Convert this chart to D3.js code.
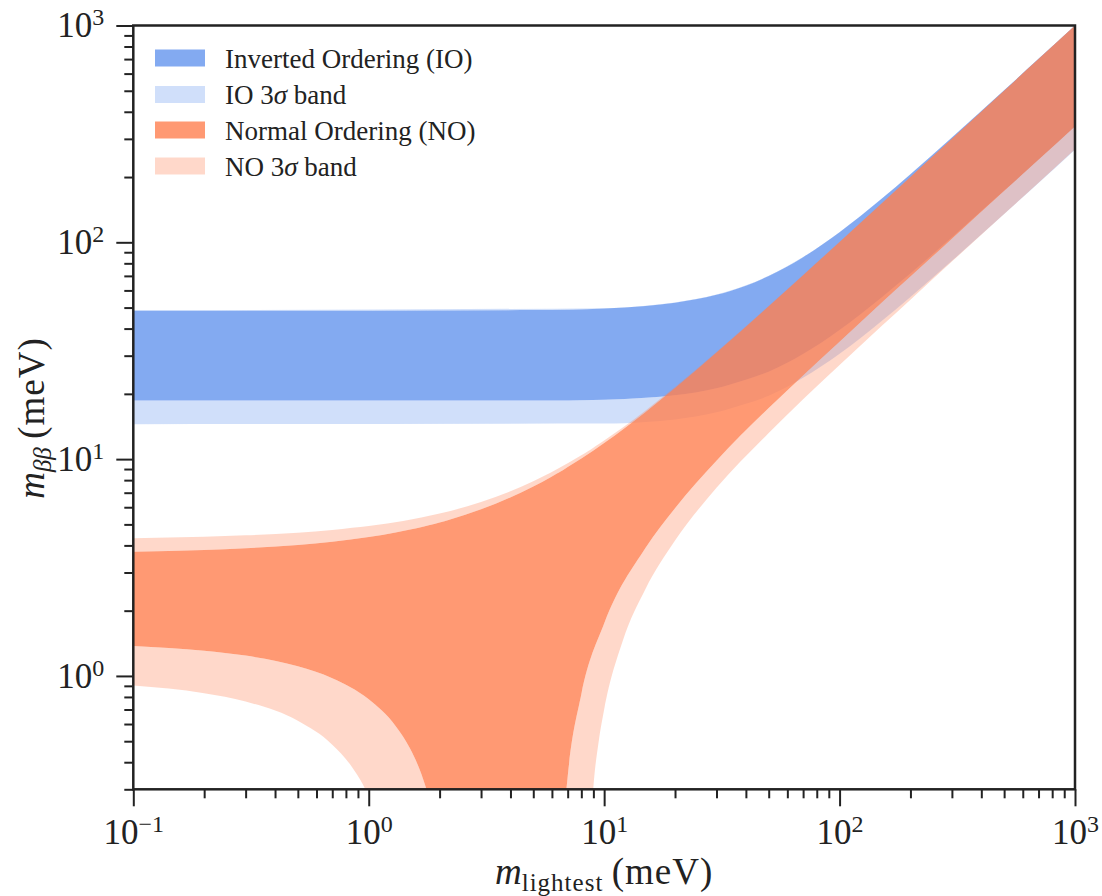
<!DOCTYPE html>
<html>
<head>
<meta charset="utf-8">
<script src="https://cdn.jsdelivr.net/npm/d3@7"></script>
<style>
  html, body { margin: 0; padding: 0; background: #ffffff; }
  svg { display: block; }
  text { font-family: "Liberation Serif", "DejaVu Serif", serif; fill: #222; }
</style>
</head>
<body>
<script>
// ---------------- data (meV) ----------------
// Normal Ordering, central band
const mNO      = [0.1, 0.2, 0.3, 0.5, 0.7, 1, 1.3, 1.5, 1.7, 1.8, 2.0, 2.2, 3, 5, 6, 6.3, 6.5, 6.8, 7, 8, 10, 15, 20, 30, 50, 70, 100, 150, 200, 300, 500, 700, 1000];
const noUpper  = [3.74, 3.81, 3.88, 4.02, 4.16, 4.37, 4.59, 4.73, 4.88, 4.95, 5.10, 5.25, 5.87, 7.48, 8.32, 8.58, 8.75, 9.01, 9.19, 10.06, 11.86, 16.51, 21.28, 30.99, 50.68, 70.52, 100.4, 150.3, 200.2, 300.1, 500.1, 700.1, 1000];
const noLower  = [1.376, 1.308, 1.241, 1.108, 0.976, 0.780, 0.588, 0.461, 0.336, 0.274, 0.150, 0.028, 0, 0, 0, 0, 0.094, 0.243, 0.343, 0.824, 1.747, 3.905, 5.94, 9.84, 17.2, 24.3, 34.8, 52.3, 69.5, 103.9, 172.3, 240.1, 342.2];
// Normal Ordering, 3 sigma band
const mNO3     = [0.1, 0.2, 0.3, 0.5, 0.7, 0.85, 1, 1.2, 1.4, 2, 3, 5, 7, 8, 8.5, 9, 9.5, 10, 12, 15, 20, 30, 50, 70, 100, 150, 200, 300, 500, 700, 1000];
const no3Upper = [4.32, 4.385, 4.45, 4.58, 4.71, 4.82, 4.92, 5.05, 5.19, 5.61, 6.34, 7.90, 9.56, 10.42, 10.85, 11.29, 11.73, 12.18, 13.99, 16.77, 21.50, 31.16, 50.80, 70.60, 100.4, 150.3, 200.2, 300.1, 500.1, 700.1, 1000];
const no3Lower = [0.903, 0.832, 0.762, 0.621, 0.482, 0.379, 0.276, 0.140, 0.006, 0, 0, 0, 0, 0, 0.105, 0.307, 0.507, 0.700, 1.454, 2.525, 4.21, 7.37, 13.2, 18.9, 27.2, 40.9, 54.4, 81.5, 135.1, 188.3, 268.5];
// Inverted Ordering, central band
const mIO      = [0.1, 1, 5, 10, 15, 20, 30, 40, 50, 70, 100, 150, 200, 300, 500, 700, 1000];
const ioUpper  = [48.37, 48.40, 48.72, 49.56, 50.87, 52.61, 57.23, 63.09, 69.88, 85.36, 111.3, 157.8, 205.9, 304.0, 502.4, 701.7, 1001.2];
const ioLower  = [18.64, 18.63, 18.63, 18.81, 19.18, 19.71, 21.24, 23.25, 25.3, 30.5, 39.4, 55.4, 71.8, 105.4, 173.2, 240.7, 342.7];
// Inverted Ordering, 3 sigma band
const mIO3     = [0.1, 10, 15, 20, 30, 40, 50, 70, 100, 150, 200, 300, 500, 700, 1000];
const io3Upper = [48.6, 49.7, 51.0, 52.8, 57.4, 63.3, 70.1, 85.5, 111.4, 157.9, 206.0, 304.1, 502.4, 701.7, 1001.2];
const io3Lower = [14.50, 14.58, 14.84, 15.25, 16.43, 18.00, 19.6, 23.7, 30.6, 43.1, 56.0, 82.2, 135.1, 187.7, 267.2];

const xMajor = [0.1, 1, 10, 100, 1000];
const xExp   = ["\u22121", "0", "1", "2", "3"];
const yMajor = [1, 10, 100, 1000];
const yExp   = ["0", "1", "2", "3"];
const legendLabels = [["Inverted Ordering (IO)"], ["IO 3", "\u03c3", " band"], ["Normal Ordering (NO)"], ["NO 3", "\u03c3", " band"]];

// ---------------- layout ----------------
const W = 1102, H = 896;
const L = 133.3, R = 1075, T = 25.5, B = 789.3;
const IO_COLOR = "#6495ED", NO_COLOR = "#FF7F50";

const svg = d3.select("body").append("svg").attr("width", W).attr("height", H);
const x = d3.scaleLog().domain([0.1, 1000]).range([L, R]);
const y = d3.scaleLog().domain([0.3, 1000]).range([B, T]);
const FLOOR = 0.02;

function bandPath(ms, lo, hi) {
  return d3.area()
    .x((d, i) => x(ms[i]))
    .y0((d, i) => y(Math.max(lo[i], FLOOR)))
    .y1((d, i) => y(hi[i]))
    .curve(d3.curveMonotoneX)(ms);
}

const defs = svg.append("defs");
defs.append("clipPath").attr("id", "plotClip")
  .append("rect").attr("x", L).attr("y", T).attr("width", R - L).attr("height", B - T);

const ioPath = bandPath(mIO, ioLower, ioUpper);
const noPath = bandPath(mNO, noLower, noUpper);

function addMask(id, pathD) {
  const m = defs.append("mask").attr("id", id).attr("maskUnits", "userSpaceOnUse")
    .attr("x", 0).attr("y", 0).attr("width", W).attr("height", H);
  m.append("rect").attr("x", 0).attr("y", 0).attr("width", W).attr("height", H).attr("fill", "#fff");
  m.append("path").attr("d", pathD).attr("fill", "#000");
}
addMask("ioMask", ioPath);
addMask("noMask", noPath);

const plot = svg.append("g").attr("clip-path", "url(#plotClip)");

plot.append("path").attr("d", bandPath(mIO3, io3Lower, io3Upper))
  .attr("fill", IO_COLOR).attr("fill-opacity", 0.3).attr("mask", "url(#ioMask)");
plot.append("path").attr("d", ioPath)
  .attr("fill", IO_COLOR).attr("fill-opacity", 0.8);
plot.append("path").attr("d", bandPath(mNO3, no3Lower, no3Upper))
  .attr("fill", NO_COLOR).attr("fill-opacity", 0.3).attr("mask", "url(#noMask)");
plot.append("path").attr("d", noPath)
  .attr("fill", NO_COLOR).attr("fill-opacity", 0.8);

// ---------------- axes ----------------
function minorTicks(lo, hi) {
  const out = [];
  for (let e = -2; e <= 3; e++) {
    for (let k = 2; k <= 9; k++) {
      const v = k * Math.pow(10, e);
      if (v >= lo * 0.9999 && v < hi * 0.9999) out.push(v);
    }
  }
  return out;
}
const TICK_FS = 35, EXP_FS = 24;

function styleAxis(g) {
  g.select(".domain").remove();
  g.selectAll(".tick line").attr("stroke", "#222").attr("stroke-width", 2);
}
function powerLabels(g, exps, vals) {
  g.selectAll(".tick text").each(function(d) {
    const t = d3.select(this);
    const i = vals.indexOf(d);
    t.text(null).attr("font-size", TICK_FS).attr("fill", "#222");
    t.append("tspan").text("10");
    t.append("tspan").attr("font-size", EXP_FS).attr("dy", -12).text(exps[i]);
  });
}

// x axis
const gxMinor = svg.append("g").attr("transform", `translate(0,${B})`)
  .call(d3.axisBottom(x).tickValues(minorTicks(0.1, 1000)).tickSize(9).tickFormat(() => ""));
styleAxis(gxMinor);
const gx = svg.append("g").attr("transform", `translate(0,${B})`)
  .call(d3.axisBottom(x).tickValues(xMajor).tickSize(17).tickPadding(13));
styleAxis(gx);
powerLabels(gx, xExp, xMajor);

// y axis
const gyMinor = svg.append("g").attr("transform", `translate(${L},0)`)
  .call(d3.axisLeft(y).tickValues(minorTicks(0.3, 1000)).tickSize(9).tickFormat(() => ""));
styleAxis(gyMinor);
const gy = svg.append("g").attr("transform", `translate(${L},0)`)
  .call(d3.axisLeft(y).tickValues(yMajor).tickSize(17).tickPadding(12));
styleAxis(gy);
powerLabels(gy, yExp, yMajor);

// frame
svg.append("rect").attr("x", L).attr("y", T).attr("width", R - L).attr("height", B - T)
  .attr("fill", "none").attr("stroke", "#222").attr("stroke-width", 2.5);

// axis labels
const LABEL_FS = 37;
const xl = svg.append("text").attr("x", (L + R) / 2).attr("y", 884)
  .attr("text-anchor", "middle").attr("font-size", LABEL_FS);
xl.append("tspan").attr("font-style", "italic").text("m");
xl.append("tspan").attr("font-size", 25).attr("letter-spacing", 1).attr("dy", 7).text("lightest");
xl.append("tspan").attr("dy", -7).attr("letter-spacing", 1).text("\u2009(meV)");

const yl = svg.append("text")
  .attr("transform", `translate(44,418) rotate(-90)`)
  .attr("text-anchor", "middle").attr("font-size", LABEL_FS);
yl.append("tspan").attr("font-style", "italic").text("m");
yl.append("tspan").attr("font-style", "italic").attr("font-size", 25).attr("dy", 7).text("\u03b2\u03b2");
yl.append("tspan").attr("dy", -7).attr("letter-spacing", 1).text("\u2009(meV)");

// ---------------- legend ----------------
const legendColors = [[IO_COLOR, 0.8], [IO_COLOR, 0.3], [NO_COLOR, 0.8], [NO_COLOR, 0.3]];
const legY = [58, 94.5, 130, 166];
const leg = svg.append("g");
legendLabels.forEach((parts, i) => {
  leg.append("rect").attr("x", 155).attr("y", legY[i] - 8.5).attr("width", 50).attr("height", 17)
    .attr("fill", legendColors[i][0]).attr("fill-opacity", legendColors[i][1]);
  const t = leg.append("text").attr("x", 225).attr("y", legY[i] + 9.5).attr("font-size", 27);
  parts.forEach((p, k) => {
    const s = t.append("tspan").text(p);
    if (p === "\u03c3") s.attr("font-style", "italic");
  });
});
</script>
</body>
</html>
